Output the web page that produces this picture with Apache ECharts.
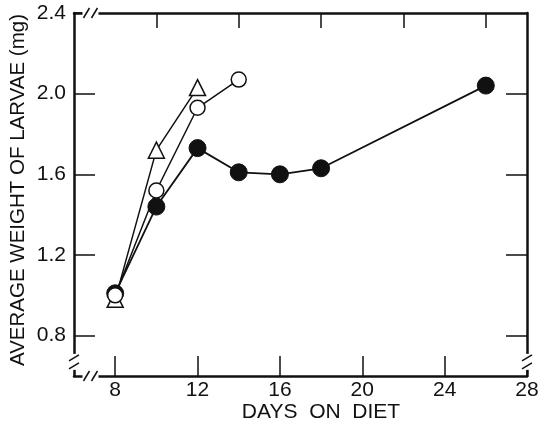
<!DOCTYPE html>
<html><head><meta charset="utf-8">
<script src="https://cdn.jsdelivr.net/npm/echarts@6/dist/echarts.min.js"></script>
<style>html,body{margin:0;padding:0;background:#fff}#c{width:538px;height:426px}</style>
</head><body><div id="c"></div>
<script>
var xTickLabels = [8, 12, 16, 20, 24, 28];
var xTopTicks = [10, 14, 18, 22, 26];
var yTickLabels = [0.8, 1.2, 1.6, 2.0, 2.4];
var yRightTicks = [0.8, 1.2, 1.6, 2.0];

var daysFilled = [8, 10, 12, 14, 16, 18, 26];
var weightFilled = [1.01, 1.44, 1.73, 1.61, 1.60, 1.63, 2.04];
var daysOpen = [8, 10, 12, 14];
var weightOpen = [1.00, 1.52, 1.93, 2.07];
var daysTri = [8, 10, 12];
var weightTri = [0.98, 1.72, 2.03];

function pairs(xs, ys){ return xs.map(function(x,i){ return [x, ys[i]]; }); }

var FONT = '"Liberation Sans", Arial, sans-serif';
var chart = echarts.init(document.getElementById('c'), null, {renderer:'canvas'});
var axisLine = {show:true, lineStyle:{color:'#111', width:2.5}};
var option = {
  animation:false,
  backgroundColor:'#fff',
  grid:{left:74, right:11, top:13, bottom:50, containLabel:false, outerBoundsMode:'none'},
  xAxis:[{
    type:'value', position:'bottom', min:6, max:28,
    axisLine:axisLine,
    axisTick:{show:true, inside:true, length:20, customValues:xTickLabels, lineStyle:{color:'#111', width:1.5}},
    axisLabel:{show:true, customValues:xTickLabels, margin:4, color:'#111', fontSize:21, fontFamily:FONT},
    splitLine:{show:false}
  },{
    type:'value', position:'top', min:6, max:28,
    axisLine:axisLine,
    axisTick:{show:true, inside:true, length:15, customValues:xTopTicks, lineStyle:{color:'#111', width:1.5}},
    axisLabel:{show:false},
    splitLine:{show:false}
  }],
  yAxis:[{
    type:'value', position:'left', min:0.6, max:2.4,
    axisLine:axisLine,
    axisTick:{show:true, inside:true, length:21, customValues:yTickLabels, lineStyle:{color:'#111', width:1.5}},
    axisLabel:{show:true, customValues:yTickLabels, margin:8, color:'#111', fontSize:21, fontFamily:FONT,
      formatter:function(v){ return Number(v).toFixed(1); }},
    splitLine:{show:false}
  },{
    type:'value', position:'right', min:0.6, max:2.4,
    axisLine:axisLine,
    axisTick:{show:true, inside:true, length:21, customValues:yRightTicks, lineStyle:{color:'#111', width:1.5}},
    axisLabel:{show:false},
    splitLine:{show:false}
  }],
  series:[{
    type:'line', name:'triangle', data:pairs(daysTri, weightTri), xAxisIndex:0, yAxisIndex:0,
    symbol:'triangle', symbolSize:16, z:3,
    lineStyle:{color:'#111', width:1.5},
    itemStyle:{color:'#fff', borderColor:'#111', borderWidth:1.5}
  },{
    type:'line', name:'filled', data:pairs(daysFilled, weightFilled), xAxisIndex:0, yAxisIndex:0,
    symbol:'circle', symbolSize:17, z:4,
    lineStyle:{color:'#111', width:1.8},
    itemStyle:{color:'#111', borderColor:'#111', borderWidth:1}
  },{
    type:'line', name:'open', data:pairs(daysOpen, weightOpen), xAxisIndex:0, yAxisIndex:0,
    symbol:'circle', symbolSize:15, z:5,
    lineStyle:{color:'#111', width:1.5},
    itemStyle:{color:'#fff', borderColor:'#111', borderWidth:1.5}
  }]
};
chart.setOption(option);

// axis break marks and titles
var bx = chart.convertToPixel({xAxisIndex:0}, 6.8);
var by = chart.convertToPixel({yAxisIndex:0}, 0.67);
var x0 = chart.convertToPixel({xAxisIndex:0}, 6);
var x1 = chart.convertToPixel({xAxisIndex:0}, 28);
var y0 = chart.convertToPixel({yAxisIndex:0}, 0.6);
var y1 = chart.convertToPixel({yAxisIndex:0}, 2.4);
function hBreak(cx, cy){
  return [
    {type:'rect', shape:{x:cx-8, y:cy-3, width:16, height:6}, style:{fill:'#fff'}, z:100},
    {type:'line', shape:{x1:cx-7, y1:cy+5, x2:cx-1, y2:cy-5}, style:{stroke:'#111', lineWidth:1.5}, z:101},
    {type:'line', shape:{x1:cx+1, y1:cy+5, x2:cx+7, y2:cy-5}, style:{stroke:'#111', lineWidth:1.5}, z:101}
  ];
}
function vBreak(cx, cy){
  return [
    {type:'rect', shape:{x:cx-3, y:cy-8, width:6, height:16}, style:{fill:'#fff'}, z:100},
    {type:'line', shape:{x1:cx-5, y1:cy-1, x2:cx+5, y2:cy-7}, style:{stroke:'#111', lineWidth:1.5}, z:101},
    {type:'line', shape:{x1:cx-5, y1:cy+7, x2:cx+5, y2:cy+1}, style:{stroke:'#111', lineWidth:1.5}, z:101}
  ];
}
var g = [].concat(hBreak(bx, y0), hBreak(bx, y1), vBreak(x0, by), vBreak(x1, by));
g.push({type:'text', x:18, y:190, rotation:Math.PI/2,
  style:{text:'AVERAGE WEIGHT OF LARVAE (mg)', fill:'#111', font:'20.5px ' + FONT, align:'center', verticalAlign:'middle'}, z:50});
g.push({type:'text', x:321, y:412,
  style:{text:'DAYS  ON  DIET', fill:'#111', font:'21px ' + FONT, align:'center', verticalAlign:'middle'}, z:50});
chart.setOption({graphic:g});
</script>
</body></html>
